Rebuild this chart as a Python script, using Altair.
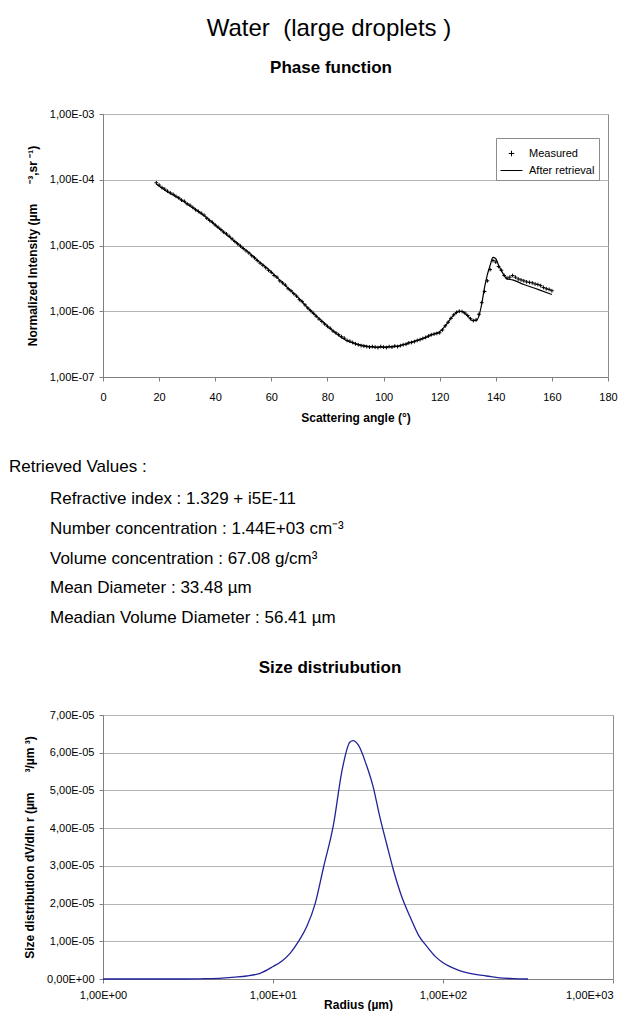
import altair as alt
import pandas as pd

# ---------------- text ----------------
NB = "\u00a0"
main_title = "Water" + NB + NB + "(large droplets )"
phase_title = "Phase function"
size_title = "Size distriubution"
retrieved_heading = "Retrieved Values :"
retrieved_lines = [
    "Refractive index : 1.329 + i5E-11",
    "Number concentration : 1.44E+03 cm⁻³",
    "Volume concentration : 67.08 g/cm³",
    "Mean Diameter : 33.48 µm",
    "Meadian Volume Diameter : 56.41 µm",
]
legend_labels = ["Measured", "After retrieval"]
phase_ytitle = "Normalized Intensity (µm" + NB * 6 + "⁻³,sr" + NB + "⁻¹)"
size_ytitle = "Size distribution dV/dln r (µm" + NB * 6 + "³/µm" + NB + "³)"

# ---------------- phase function: measured ----------------
meas_angle = list(range(19, 161))
meas_intensity = [
    9.0e-5, 8.3e-5, 7.6e-5, 7.2e-5, 6.7e-5, 6.3e-5, 6.0e-5, 5.6e-5, 5.3e-5, 4.9e-5,   # 19-28
    4.7e-5, 4.3e-5, 4.1e-5, 3.8e-5, 3.5e-5, 3.3e-5, 3.1e-5, 2.9e-5, 2.6e-5, 2.4e-5,   # 29-38
    2.25e-5, 2.05e-5, 1.9e-5, 1.75e-5, 1.6e-5, 1.5e-5, 1.38e-5, 1.26e-5, 1.15e-5, 1.06e-5,  # 39-48
    9.8e-6, 9.0e-6, 8.3e-6, 7.7e-6, 7.0e-6, 6.5e-6, 5.9e-6, 5.4e-6, 5.0e-6, 4.6e-6,   # 49-58
    4.2e-6, 3.9e-6, 3.5e-6, 3.3e-6, 2.9e-6, 2.7e-6, 2.5e-6, 2.2e-6, 2.05e-6, 1.85e-6, # 59-68
    1.7e-6, 1.5e-6, 1.4e-6, 1.25e-6, 1.12e-6, 1.02e-6, 9.3e-7, 8.4e-7, 7.6e-7, 7.0e-7, # 69-78
    6.4e-7, 5.9e-7, 5.5e-7, 5.0e-7, 4.7e-7, 4.4e-7, 4.1e-7, 3.9e-7, 3.6e-7, 3.5e-7,   # 79-88
    3.35e-7, 3.2e-7, 3.1e-7, 3.0e-7, 2.95e-7, 2.9e-7, 2.85e-7, 2.9e-7, 2.85e-7, 2.8e-7, # 89-98
    2.9e-7, 2.85e-7, 2.8e-7, 2.9e-7, 2.85e-7, 2.95e-7, 2.9e-7, 3.0e-7, 3.1e-7, 3.15e-7, # 99-108
    3.3e-7, 3.35e-7, 3.45e-7, 3.6e-7, 3.7e-7, 3.85e-7, 4.0e-7, 4.2e-7, 4.4e-7, 4.5e-7,  # 109-118
    4.6e-7, 4.7e-7, 5.2e-7, 6.0e-7, 6.8e-7, 7.8e-7, 8.8e-7, 9.6e-7, 1.0e-6, 9.9e-7,    # 119-128
    9.4e-7, 8.6e-7, 7.7e-7, 7.2e-7, 7.4e-7, 9.0e-7, 1.35e-6, 2.0e-6, 2.9e-6, 4.3e-6,   # 129-138
    5.9e-6, 5.6e-6, 4.8e-6, 4.2e-6, 3.5e-6, 3.2e-6, 3.3e-6, 3.5e-6, 3.3e-6, 3.1e-6,    # 139-148
    3.0e-6, 2.9e-6, 2.8e-6, 2.75e-6, 2.7e-6, 2.6e-6, 2.55e-6, 2.45e-6, 2.3e-6, 2.2e-6, # 149-158
    2.15e-6, 2.05e-6,                                                                  # 159-160
]

# ---------------- phase function: after retrieval ----------------
fit_angle = [19, 22, 25, 28, 31, 34, 37, 40, 43, 46, 49, 52, 55, 58, 61, 64, 67, 70, 73, 76,
             79, 82, 85, 88, 91, 94, 97, 100, 103, 106, 109, 112, 115, 118, 120, 122, 124, 126,
             127, 128, 130, 131.5, 133, 134, 135, 136, 137, 138, 139, 140, 141, 142.5, 144,
             146, 150, 155, 160]
fit_intensity = [8.6e-5, 7.0e-5, 5.9e-5, 4.9e-5, 4.0e-5, 3.3e-5, 2.65e-5, 2.05e-5, 1.6e-5, 1.25e-5,
                 9.8e-6, 7.8e-6, 6.0e-6, 4.7e-6, 3.6e-6, 2.7e-6, 2.05e-6, 1.55e-6, 1.12e-6, 8.5e-7,
                 6.5e-7, 5.0e-7, 4.0e-7, 3.4e-7, 3.1e-7, 2.95e-7, 2.85e-7, 2.85e-7, 2.9e-7, 3.0e-7,
                 3.3e-7, 3.6e-7, 4.0e-7, 4.5e-7, 4.9e-7, 6.0e-7, 7.8e-7, 9.6e-7,
                 1.0e-6, 9.9e-7, 8.5e-7, 7.3e-7, 7.2e-7, 8.5e-7, 1.3e-6, 2.3e-6, 3.6e-6, 5.0e-6,
                 6.6e-6, 6.3e-6, 5.0e-6, 3.8e-6, 3.1e-6,
                 3.0e-6, 2.55e-6, 2.15e-6, 1.8e-6]

# ---------------- size distribution ----------------
radius = [1.0, 2.0, 3.0, 4.0, 5.0, 6.0, 7.0, 8.4, 10.0, 11.3, 12.6, 14.1, 15.8, 17.7, 19.8,
          22.7, 25.4, 28.3, 29.6, 31.8, 35.4, 38.8, 42.5, 46.5, 51.1, 57.0, 64.0, 72.0, 80.5,
          90.0, 100.0, 115.0, 132.0, 155.0, 180.0, 215.0, 260.0, 316.0]
dvdlnr = [0.0, 0.0, 0.0, 1e-7, 2.5e-7, 5e-7, 8e-7, 1.5e-6, 3.3e-6, 4.8e-6, 6.8e-6, 9.9e-6, 1.39e-5,
          2.0e-5, 2.95e-5, 4.1e-5, 5.5e-5, 6.28e-5, 6.32e-5, 6.2e-5, 5.68e-5, 5.1e-5, 4.3e-5,
          3.6e-5, 2.89e-5, 2.2e-5, 1.65e-5, 1.15e-5, 8.6e-6, 6.0e-6, 4.3e-6, 2.9e-6, 1.9e-6,
          1.2e-6, 8e-7, 3e-7, 1e-7, 0.0]

FONT = "Liberation Sans"
PLUS = "M-0.25,0H0.25M0,-0.25V0.25"
DASH = "M-1,0H1"
NO_FRAME = alt.ViewBackground(stroke="transparent")

# ---------------- header ----------------
df_main = pd.DataFrame({"t": [main_title]})
df_phase = pd.DataFrame({"t": [phase_title]})
header = alt.layer(
    alt.Chart(df_main).mark_text(fontSize=24, font=FONT, color="black")
    .encode(text="t:N", x=alt.value(226), y=alt.value(20)),
    alt.Chart(df_phase).mark_text(fontSize=17, font=FONT, fontWeight="bold", color="black")
    .encode(text="t:N", x=alt.value(228), y=alt.value(59)),
).properties(width=505, height=105, view=NO_FRAME)

# ---------------- phase function chart ----------------
df_meas = pd.DataFrame({"angle": meas_angle, "intensity": meas_intensity,
                        "series": legend_labels[0]})
df_fit = pd.DataFrame({"angle": fit_angle, "intensity": fit_intensity,
                       "series": legend_labels[1]})

x1 = alt.X("angle:Q", scale=alt.Scale(domain=[0, 180], nice=False),
           axis=alt.Axis(values=list(range(0, 181, 20)), title="Scattering angle (°)",
                         grid=False, labelPadding=10, titlePadding=10))
y1 = alt.Y("intensity:Q",
           scale=alt.Scale(type="log", domain=[1e-7, 1e-3], nice=False),
           axis=alt.Axis(values=[1e-7, 1e-6, 1e-5, 1e-4, 1e-3], grid=True,
                         labelExpr="'1,00E-0' + toString(round(-log(datum.value)/LN10))",
                         title=phase_ytitle))

fit_line = alt.Chart(df_fit).mark_line(color="black", strokeWidth=1.2,
                                        interpolate="monotone").encode(x=x1, y=y1)
meas_pts = alt.Chart(df_meas).mark_point(filled=False, color="black", strokeWidth=1,
                                         size=225, opacity=1).encode(
    x=x1, y=y1,
    shape=alt.Shape("series:N",
                    scale=alt.Scale(domain=legend_labels, range=[PLUS, DASH]),
                    legend=alt.Legend(title=None, orient="none", legendX=393, legendY=24,
                                      strokeColor="#8c8c8c", fillColor="white",
                                      padding=4, rowPadding=-1, symbolSize=484,
                                      labelOffset=6, labelFontSize=11, labelFont=FONT,
                                      symbolStrokeColor="black", symbolStrokeWidth=1,
                                      labelColor="black")),
)
phase_chart = alt.layer(fit_line, meas_pts).properties(width=505, height=263)

# ---------------- retrieved values ----------------
df_head = pd.DataFrame({"t": [retrieved_heading]})
df_lines = pd.DataFrame({"idx": list(range(len(retrieved_lines))), "t": retrieved_lines})
text_block = alt.layer(
    alt.Chart(df_head).mark_text(fontSize=17, font=FONT, align="left", color="black")
    .encode(text="t:N", x=alt.value(-94), y=alt.value(90)),
    alt.Chart(df_lines).mark_text(fontSize=17, font=FONT, align="left", color="black")
    .encode(text="t:N", x=alt.value(-53),
            y=alt.Y("idx:O", axis=None,
                    scale=alt.Scale(type="point", range=[122, 241], padding=0))),
    alt.Chart(pd.DataFrame({"t": [size_title]})).mark_text(
        fontSize=17, font=FONT, fontWeight="bold", color="black")
    .encode(text="t:N", x=alt.value(227), y=alt.value(291)),
).properties(width=505, height=338, view=NO_FRAME)

# ---------------- size distribution chart ----------------
df_size = pd.DataFrame({"radius": radius, "dv": dvdlnr})
size_chart = alt.Chart(df_size).mark_line(color="#22229a", strokeWidth=1.3,
                                          interpolate="monotone").encode(
    x=alt.X("radius:Q", scale=alt.Scale(type="log", domain=[1, 1000], nice=False),
            axis=alt.Axis(values=[1, 10, 100, 1000], grid=False, title="Radius (µm)",
                          labelPadding=6, titlePadding=-1,
                          labelAlign={"condition": {"test": "datum.value >= 1000",
                                                    "value": "right"},
                                      "value": "center"},
                          labelExpr="'1,00E+0' + toString(round(log(datum.value)/LN10))")),
    y=alt.Y("dv:Q", scale=alt.Scale(domain=[0, 7e-5], nice=False),
            axis=alt.Axis(values=[0, 1e-5, 2e-5, 3e-5, 4e-5, 5e-5, 6e-5, 7e-5], grid=True,
                          title=size_ytitle,
                          labelExpr="datum.value == 0 ? '0,00E+00' : replace(format(datum.value*1e5, '.2f'), '.', ',') + 'E-05'")),
).properties(width=510, height=264)

chart = alt.vconcat(header, phase_chart, text_block, size_chart,
                    spacing=0, bounds="flush").resolve_legend(
    shape="independent"
).properties(
    padding={"left": 0, "top": 0, "right": 2, "bottom": 0}
).configure(font=FONT).configure_view(
    stroke="#8c8c8c", strokeWidth=1
).configure_axis(
    domainColor="#808080", tickColor="#808080", gridColor="#b4b4b4",
    labelFont=FONT, labelFontSize=11, labelColor="black",
    titleFont=FONT, titleFontSize=12, titleFontWeight="bold", titleColor="black",
    tickSize=4, labelPadding=5, titlePadding=10, labelFlush=False, labelOverlap=False,
)

chart.save("out.html", embed_options={"renderer": "svg", "actions": False})
